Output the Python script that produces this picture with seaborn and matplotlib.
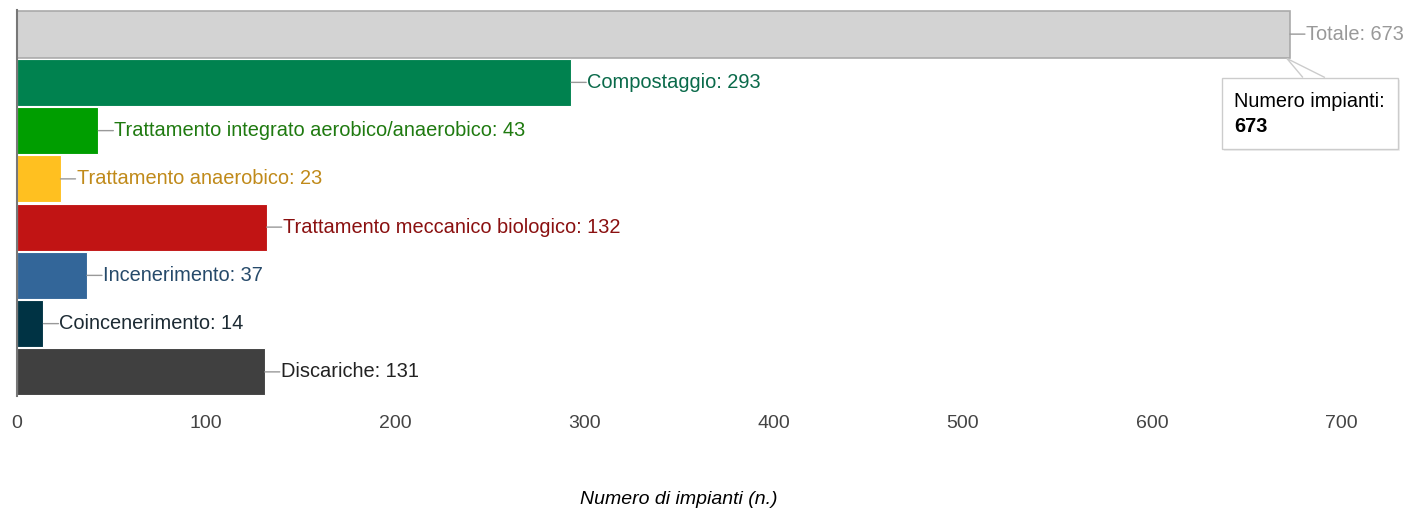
import matplotlib
matplotlib.use("Agg")
import matplotlib.pyplot as plt
import seaborn as sns
import pandas as pd
from matplotlib.patches import Polygon, FancyBboxPatch
from matplotlib.transforms import IdentityTransform

categories = ["Totale", "Compostaggio", "Trattamento integrato aerobico/anaerobico",
              "Trattamento anaerobico", "Trattamento meccanico biologico",
              "Incenerimento", "Coincenerimento", "Discariche"]
values = [673, 293, 43, 23, 132, 37, 14, 131]
bar_colors = ["#d3d3d3", "#00824f", "#009e00", "#ffc020", "#c11414", "#336699", "#003344", "#404040"]
label_colors = ["#999999", "#0a6a4a", "#1f7a10", "#c08a1a", "#8a1010", "#264a6a", "#1c2a33", "#222222"]
xticks = [0, 100, 200, 300, 400, 500, 600, 700]
xlabel = "Numero di impianti (n.)"
tooltip_title = "Numero impianti:"

sns.set_theme(style="white")
plt.rcParams['font.family'] = ['Liberation Sans', 'DejaVu Sans']

df = pd.DataFrame({"cat": categories, "val": values})

W, H, DPI = 1418, 525, 100
fig = plt.figure(figsize=(W / DPI, H / DPI), dpi=DPI)
ax = fig.add_axes([17 / W, 1 - 396 / H, (1341 - 17) / W, (396 - 10) / H])

sns.barplot(data=df, y="cat", x="val", hue="cat", palette=bar_colors, orient="h",
            width=0.97, legend=False, ax=ax, saturation=1, linewidth=0.8,
            edgecolor="white")
ax.patches[0].set_edgecolor("#aaaaaa")
ax.patches[0].set_linewidth(1.2)

ax.set_xlim(0, 700)
ax.set_ylim(len(categories) - 0.5, -0.5)
ax.set_xticks(xticks)
ax.set_xticklabels([str(t) for t in xticks], fontsize=14, color="#444444")
ax.tick_params(axis="x", length=0, pad=14)
ax.set_yticks([])
ax.set_ylabel("")
ax.set_xlabel("")
for s in ["top", "right", "bottom"]:
    ax.spines[s].set_visible(False)
ax.spines["left"].set_color("#777777")
ax.spines["left"].set_linewidth(1.5)

fig.text((17 + 1341) / 2 / W, 1 - 500 / H, xlabel, fontsize=14, style="italic",
         color="black", ha="center", va="center")

for i, (c, v, lc) in enumerate(zip(categories, values, label_colors)):
    ax.annotate("", xy=(v, i), xytext=(15, 0), textcoords="offset pixels",
                arrowprops=dict(arrowstyle="-", color="#999999", lw=1.0,
                                shrinkA=0, shrinkB=0))
    ax.annotate(f"{c}: {v}", xy=(v, i), xytext=(16, 0), textcoords="offset pixels",
                ha="left", va="center", fontsize=14.4, color=lc)

fig.canvas.draw()
bx, by = ax.transData.transform((values[0], 0 + 0.97 / 2))
left, top = bx - 68, by - 20
wbox, hbox = 176, 71
shadow = FancyBboxPatch((left + 2, top - hbox - 2), wbox, hbox, boxstyle="square,pad=0",
                        transform=IdentityTransform(), facecolor="#000000", alpha=0.06,
                        edgecolor="none", zorder=9)
fig.patches.append(shadow)
box = FancyBboxPatch((left, top - hbox), wbox, hbox, boxstyle="square,pad=0",
                     transform=IdentityTransform(), facecolor="white",
                     edgecolor="#cccccc", linewidth=1, zorder=10)
fig.patches.append(box)
ptr = Polygon([(bx + 13, top), (bx - 3, by - 1), (bx + 35, top)], closed=False,
              transform=IdentityTransform(), facecolor="white", edgecolor="#cccccc",
              linewidth=1, zorder=11)
fig.patches.append(ptr)
fig.text((left + 12) / W, (top - 24) / H, tooltip_title, fontsize=14.3, color="black",
         va="center", ha="left", zorder=12)
fig.text((left + 12) / W, (top - 49) / H, str(values[0]), fontsize=14.3, color="black",
         fontweight="bold", va="center", ha="left", zorder=12)

fig.savefig("out.png", dpi=DPI)
